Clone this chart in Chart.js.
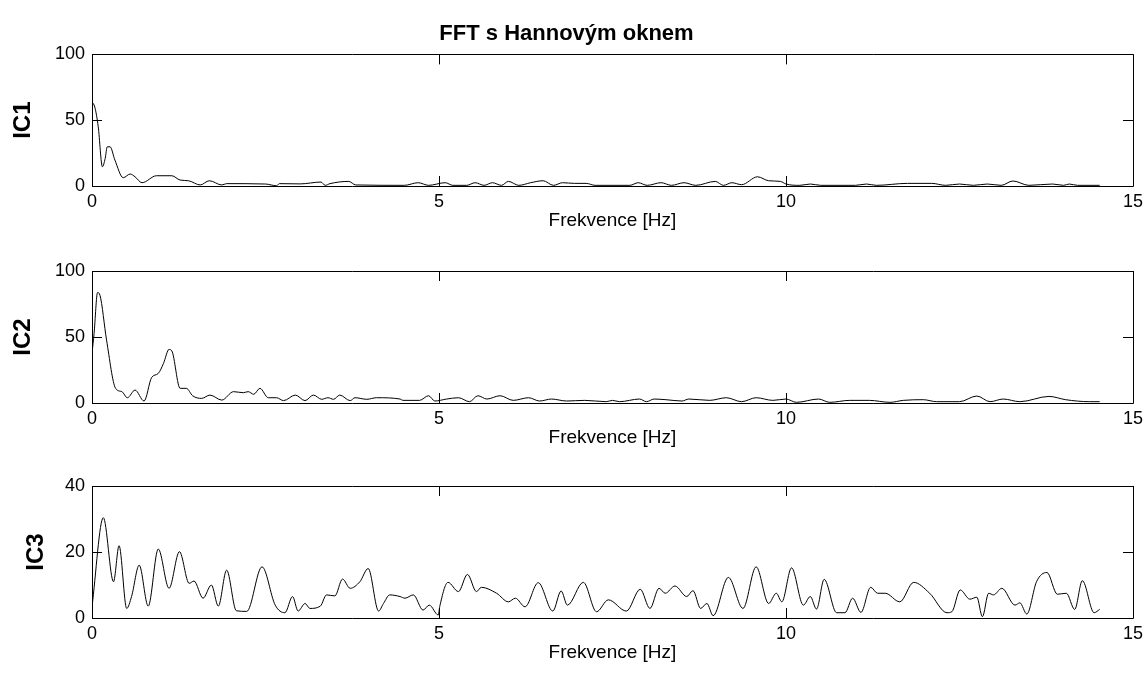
<!DOCTYPE html>
<html>
<head>
<meta charset="utf-8">
<script src="https://cdn.jsdelivr.net/npm/chart.js"></script>
<style>
	body { margin: 0; background: #fff; }
	.panel { position: absolute; left: 0; width: 1148px; }
</style>
</head>
<body>
<div class="panel" style="top:0;height:232px"><canvas id="c1"></canvas></div>
<div class="panel" style="top:232px;height:217px"><canvas id="c2"></canvas></div>
<div class="panel" style="top:449px;height:215px"><canvas id="c3"></canvas></div>
<script>
const chartTitle = 'FFT s Hannovým oknem'
const xLabel = 'Frekvence [Hz]'
const xTicks = [0, 5, 10, 15]

// IC1 spectrum (freq in Hz, amplitude)
const freq1 = [0, 0.04, 0.09, 0.15, 0.19, 0.22, 0.26, 0.33, 0.45, 0.55, 0.62, 0.72, 0.93, 1.15, 1.27, 1.39, 1.56, 1.69, 1.87, 1.94,
	2.5, 2.66, 2.7, 3.0, 3.3, 3.36, 3.43, 3.7, 3.8, 4.5, 4.7, 4.85, 5.09, 5.2, 5.4, 5.52, 5.65, 5.77, 5.9, 6.0,
	6.15, 6.32, 6.5, 6.65, 6.78, 6.95, 7.12, 7.25, 7.75, 7.87, 8.0, 8.2, 8.35, 8.53, 8.7, 8.98, 9.1, 9.22, 9.36, 9.59,
	9.75, 9.92, 10.0, 10.2, 10.35, 10.5, 11.0, 11.16, 11.3, 11.75, 12.1, 12.3, 12.5, 12.7, 12.9, 13.1, 13.27, 13.5, 13.84, 14.0,
	14.08, 14.2, 14.52]
const ic1 = [64, 60, 45, 14.6, 21, 29.8, 29.8, 19.7, 6.3, 9.1, 7, 2.5, 7.8, 7.8, 4.5, 4, 0.8, 4, 0.8, 1.8,
	1.5, 0.2, 1.8, 1.6, 3, 0.5, 1.8, 3.5, 0.8, 0.5, 2.5, 0.5, 2.5, 0.5, 0.5, 2.5, 0.5, 2.5, 0.5, 3.5,
	0.5, 2.5, 4, 0.5, 2.5, 2, 2, 0.5, 0.5, 2.5, 0.5, 2.5, 0.5, 2.5, 0.5, 3.5, 0.5, 2.5, 1, 7,
	4, 3.5, 1.5, 0.5, 1.5, 0.5, 0.5, 1.5, 0.5, 2, 2, 0.5, 1.5, 0.5, 1.5, 0.5, 3.8, 0.5, 1.5, 0.5,
	1.5, 0.5, 0.5]

// IC2 spectrum
const freq2 = [0, 0.03, 0.08, 0.115, 0.21, 0.34, 0.43, 0.51, 0.62, 0.75, 0.86, 0.955, 1.03, 1.11, 1.15, 1.27, 1.36, 1.45, 1.58, 1.70,
	1.87, 2.04, 2.18, 2.25, 2.33, 2.42, 2.54, 2.66, 2.76, 2.93, 3.07, 3.19, 3.31, 3.4, 3.48, 3.57, 3.72, 3.79, 3.96, 4.1,
	4.44, 4.48, 4.72, 4.85, 4.94, 5.11, 5.28, 5.44, 5.56, 5.69, 5.88, 6.07, 6.29, 6.45, 6.62, 6.84, 7.1, 7.41, 7.5, 7.6,
	7.89, 7.99, 8.1, 8.27, 8.5, 8.6, 8.9, 9.14, 9.36, 9.57, 9.81, 10.0, 10.15, 10.47, 10.63, 10.92, 11.2, 11.5, 11.69, 11.98,
	12.17, 12.5, 12.75, 12.94, 13.13, 13.37, 13.79, 14.03, 14.37, 14.52]
const ic2 = [37.6, 52.7, 83.7, 81.6, 47.6, 11.1, 8.6, 4, 9.8, 1.5, 19.4, 22.4, 30, 40.6, 39.5, 11.1, 11.1, 5.5, 3.5, 6,
	2.2, 8.6, 7.8, 8.6, 6.6, 11.1, 4, 4, 1.8, 6, 1.8, 6, 2.8, 4, 2.8, 6, 1.8, 4, 2.8, 4,
	3, 2, 2, 5.5, 1.5, 3, 4, 1, 5.5, 3, 5.5, 2, 4, 1.5, 3, 1.5, 2, 1, 2, 1,
	3, 1, 3, 2.5, 1.5, 3, 2, 4, 1, 4, 2, 3, 0.5, 3, 0.5, 2, 2, 0.5, 2, 2.5,
	1, 1, 5.3, 1, 3, 1, 5, 2.5, 1, 1]

// IC3 spectrum
const freq3 = [0, 0.163, 0.31, 0.39, 0.5, 0.57, 0.68, 0.81, 0.955, 1.11, 1.26, 1.40, 1.47, 1.60, 1.72, 1.82, 1.94, 2.08, 2.23, 2.45,
	2.64, 2.78, 2.89, 2.97, 3.07, 3.14, 3.29, 3.38, 3.50, 3.61, 3.72, 3.86, 3.98, 4.13, 4.20, 4.29, 4.44, 4.51, 4.63, 4.77,
	4.86, 4.99, 5.01, 5.13, 5.28, 5.41, 5.54, 5.61, 5.83, 6.0, 6.10, 6.24, 6.43, 6.64, 6.76, 6.85, 7.08, 7.27, 7.44, 7.70,
	7.90, 8.04, 8.17, 8.26, 8.40, 8.57, 8.66, 8.77, 8.86, 8.95, 9.17, 9.38, 9.57, 9.75, 9.86, 9.94, 10.08, 10.25, 10.35, 10.44,
	10.55, 10.73, 10.85, 10.96, 11.08, 11.22, 11.32, 11.43, 11.64, 11.84, 12.07, 12.32, 12.39, 12.51, 12.65, 12.75, 12.83, 12.92, 12.99, 13.11,
	13.30, 13.37, 13.47, 13.61, 13.76, 13.91, 14.04, 14.16, 14.27, 14.44, 14.52]
const ic3 = [3.4, 30.4, 11, 21.9, 2.9, 6.5, 16, 3.6, 20.9, 9, 20.1, 10.5, 11.2, 6, 10, 3.6, 14.5, 2.2, 2, 15.5,
	3.9, 1.6, 6.5, 2.1, 4.4, 2.9, 3.6, 7, 6.7, 11.8, 9, 11, 15, 2.1, 4.4, 7, 6.5, 6, 7, 2.4,
	3.9, 0.9, 3.4, 10.8, 8, 13.2, 8, 9.3, 7.5, 4.9, 6, 3.4, 10.7, 2.1, 8.2, 3.9, 10.8, 1.9, 5.5, 2.1,
	8.7, 2.9, 9, 7.5, 9.7, 6.5, 8.3, 2.9, 4.4, 0.7, 12.3, 2.9, 15.5, 4.4, 7.5, 4.9, 15.2, 3.9, 6.5, 2.7,
	11.7, 1.6, 1.6, 6, 1.7, 9.3, 7.5, 7.5, 4.9, 10.8, 7.5, 1.6, 1.9, 8.5, 5.7, 6.3, 0.4, 7.5, 7, 9,
	3.9, 4.6, 1.2, 11, 13.8, 7.2, 7.5, 2.6, 11.3, 1.6, 2.6]

const yTicks1 = [0, 50, 100]
const yTicks2 = [0, 50, 100]
const yTicks3 = [0, 20, 40]

Chart.defaults.font.family = '"Liberation Sans", Arial, sans-serif'
Chart.defaults.color = '#000'

// matlab-style box with inward ticks on all four sides
const frame = {
	id: 'frame',
	afterDraw(chart) {
		const { ctx, chartArea: a } = chart
		const x = chart.scales.x
		const y = chart.scales.y
		const len = 10
		ctx.save()
		ctx.strokeStyle = '#000'
		ctx.lineWidth = 1
		ctx.beginPath()
		ctx.rect(Math.round(a.left) + 0.5, Math.round(a.top) + 0.5, Math.round(a.right - a.left), Math.round(a.bottom - a.top))
		x.ticks.forEach(t => {
			const px = Math.round(x.getPixelForValue(t.value)) + 0.5
			ctx.moveTo(px, a.bottom)
			ctx.lineTo(px, a.bottom - len)
			ctx.moveTo(px, a.top)
			ctx.lineTo(px, a.top + len)
		})
		y.ticks.forEach(t => {
			const py = Math.round(y.getPixelForValue(t.value)) + 0.5
			ctx.moveTo(a.left, py)
			ctx.lineTo(a.left + len, py)
			ctx.moveTo(a.right, py)
			ctx.lineTo(a.right - len, py)
		})
		ctx.stroke()
		ctx.restore()
	}
}

function makeChart(id, name, freq, values, yTicks, padTop, showTitle, labelPad) {
	const points = freq.map((f, i) => ({ x: f, y: values[i] }))
	return new Chart(document.getElementById(id), {
		type: 'line',
		data: {
			datasets: [{
				label: name,
				data: points,
				borderColor: '#000',
				borderWidth: 1,
				pointRadius: 0,
				cubicInterpolationMode: 'monotone',
				fill: false
			}]
		},
		plugins: [frame],
		options: {
			responsive: true,
			maintainAspectRatio: false,
			animation: false,
			layout: { padding: { top: padTop, right: 15, left: 0, bottom: 0 } },
			plugins: {
				legend: { display: false },
				tooltip: { enabled: false },
				title: {
					display: showTitle,
					text: chartTitle,
					font: { size: 22, weight: 'bold' },
					padding: { top: 21, bottom: 7 }
				}
			},
			scales: {
				x: {
					type: 'linear',
					min: xTicks[0],
					max: xTicks[xTicks.length - 1],
					afterBuildTicks: s => { s.ticks = xTicks.map(v => ({ value: v })) },
					afterFit: s => { s.height = 46 },
					grid: { display: false, drawTicks: false },
					border: { display: false },
					ticks: { font: { size: 18 }, padding: 5, maxRotation: 0, autoSkip: false },
					title: { display: true, text: xLabel, font: { size: 19 }, padding: { top: 0, bottom: 0 } }
				},
				y: {
					min: yTicks[0],
					max: yTicks[yTicks.length - 1],
					afterBuildTicks: s => { s.ticks = yTicks.map(v => ({ value: v })) },
					afterFit: s => { s.width = 92 },
					grid: { display: false, drawTicks: false },
					border: { display: false },
					ticks: { font: { size: 18 }, padding: 7 },
					title: { display: true, text: name, font: { size: 24, weight: 'bold' }, padding: { top: labelPad, bottom: 0 } }
				}
			}
		}
	})
}

makeChart('c1', 'IC1', freq1, ic1, yTicks1, 0, true, 9)
makeChart('c2', 'IC2', freq2, ic2, yTicks2, 39, false, 9)
makeChart('c3', 'IC3', freq3, ic3, yTicks3, 37, false, 22)
</script>
</body>
</html>
